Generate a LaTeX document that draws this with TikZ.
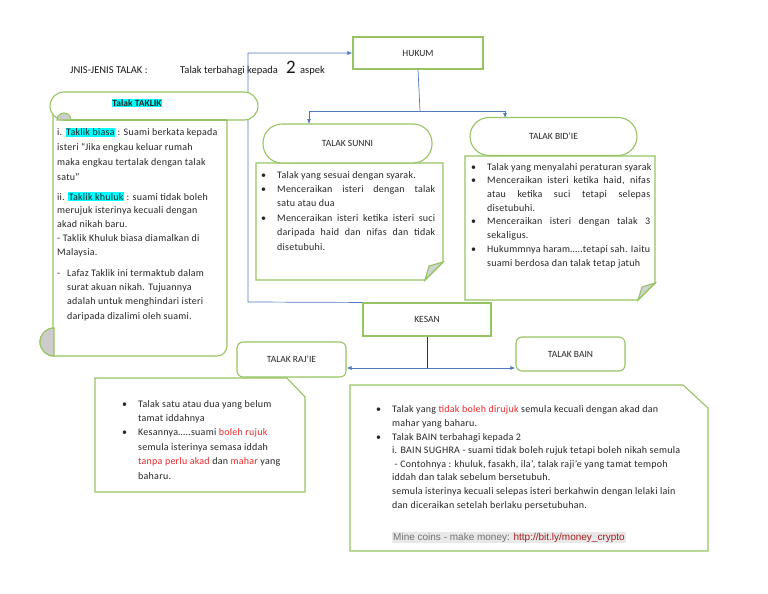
\documentclass[tikz,border=0pt]{standalone}
\usepackage{fontspec}
\setmainfont{Carlito}
\newfontfamily\bodyfont{Carlito}[LetterSpace=2.5]
\newfontfamily\arialfont{Liberation Sans}
\usetikzlibrary{arrows.meta}
\definecolor{boxgreen}{RGB}{150,196,98}
\definecolor{linkblue}{RGB}{80,120,190}
\definecolor{hlcyan}{RGB}{0,255,255}
\definecolor{txtred}{RGB}{235,40,40}
\definecolor{urlred}{RGB}{165,30,30}
\newcommand\hl[1]{{\setlength{\fboxsep}{0.6pt}\colorbox{hlcyan}{#1}}}
\newcommand\bul{\llap{\textbullet\hspace{11pt}}}
\newcommand\jl[2]{\makebox[#1][s]{#2}}
\newcommand\rd[1]{\textcolor{txtred}{#1}}
\tikzset{
  gbox/.style={draw=boxgreen, line width=1.1pt},
  conn/.style={draw=linkblue, line width=0.7pt},
  arr/.style={-{Latex[length=5pt,width=4pt]}},
  arrs/.style={{Latex[length=5pt,width=4pt]}-{Latex[length=5pt,width=4pt]}},
  lbl/.style={font=\fontsize{9.5}{11}\selectfont, text=black!85},
  head/.style={anchor=base west, inner sep=0pt, font=\fontsize{10.5}{12}\selectfont, text=black!90},
  body/.style={anchor=base west, inner sep=0pt, align=left, text=black!85},
  skip/.style={font=\bodyfont\fontsize{10}{#1}\selectfont},
}

\begin{document}
\begin{tikzpicture}[x=1pt, y=-1pt]
			%%%%% START %%%%%
			\useasboundingbox (0,0) rectangle (768,594);
			
			\node[head] (title) at (70,74) {JNIS-JENIS TALAK :};
			\node[head] (terbahagi) at (180,74) {Talak terbahagi kepada};
			\node[head, font=\fontsize{19}{20}\selectfont] (dua) at (286,74) {2};
			\node[head] (aspek) at (300,74) {aspek};
			
			\node[gbox, lbl, minimum width=130pt, minimum height=32pt] (hukum) at (418,53) {HUKUM};
			\node[gbox, lbl, minimum width=128pt, minimum height=33pt] (kesan) at (427,319.5) {KESAN};
			
			% connectors
			\coordinate (bend) at (248,302);
			\draw[conn, arr] (kesan.north west) -- (bend) |- (hukum.west);
			\coordinate (split) at (420,111);
			\coordinate (sunnitop) at (309,124);
			\coordinate (bidietop) at (505,118);
			\draw[conn] (hukum.south) -- (split);
			\draw[conn, arr] (split) -| (sunnitop);
			\draw[conn, arr] (split) -| (bidietop);
			\coordinate (fork) at (427,368);
			\draw[line width=0.6pt, black!80] (kesan.south) -- (fork);
			
			% scroll
			\draw[gbox, fill=white] (64,120) arc (90:270:14) -- (244,92) arc (270:450:14) -- (227,120) -- (227,346) arc (0:90:10) -- (54,356) arc (90:270:14) -- (53,328) -- (53,114.7);
			\draw[gbox] (64,120) -- (227,120);
			\draw[gbox, fill=gray!40] (57,120) arc (180:360:7) -- cycle;
			\draw[gbox, fill=gray!40] (54,356) arc (90:270:14) -- cycle;
			\node[lbl, font=\fontsize{9.5}{11}\selectfont\bfseries] (taklik) at (137,103) {\hl{Talak TAKLIK}};
			\node[body, skip=14.7] (taklika) at (57,180) {i. \hl{Taklik biasa} : Suami berkata kepada\\isteri “Jika engkau keluar rumah\\maka engkau tertalak dengan talak\\satu”};
			\node[body, skip=13.75] (taklikb) at (57,255) {ii. \hl{Taklik khuluk} : suami tidak boleh\\merujuk isterinya kecuali dengan\\akad nikah baru.\\- Taklik Khuluk biasa diamalkan di\\Malaysia.};
			\node[body, skip=14.3] (taklikc) at (67,319) {\llap{\makebox[10pt][l]{-}}Lafaz Taklik ini termaktub dalam\\surat akuan nikah. Tujuannya\\adalah untuk menghindari isteri\\daripada dizalimi oleh suami.};
			
			% hukum branches
			\draw[gbox, fill=white] (256,163) -- (443,163) -- (443,262) -- (425,280) -- (256,280) -- cycle;
			\draw[gbox, fill=gray!35] (425,280) -- (429,266) -- (443,262) -- cycle;
			\node[gbox, lbl, fill=white, rounded corners=19pt, minimum width=169pt, minimum height=39pt] (sunni) at (347.5,143.5) {TALAK SUNNI};
			\node[body, skip=14.4] (sunnitxt) at (277,250) {\bul Talak yang sesuai dengan syarak.\\\bul\jl{158pt}{Menceraikan isteri dengan talak}\\satu atau dua\\\bul\jl{158pt}{Menceraikan isteri ketika isteri suci}\\\jl{158pt}{daripada haid dan nifas dan tidak}\\disetubuhi.};
			
			\draw[gbox, fill=white] (465,156) -- (655,156) -- (655,283) -- (638,300) -- (465,300) -- cycle;
			\draw[gbox, fill=gray!35] (638,300) -- (642,287) -- (655,283) -- cycle;
			\node[gbox, lbl, fill=white, rounded corners=19pt, minimum width=167pt, minimum height=38pt] (bidie) at (553.5,136.5) {TALAK BID’IE};
			\node[body, skip=13.7] (bidietxt) at (487,266) {\bul Talak yang menyalahi peraturan syarak\\\bul\jl{163pt}{Menceraikan isteri ketika haid, nifas}\\\jl{163pt}{atau ketika suci tetapi selepas}\\disetubuhi.\\\bul\jl{163pt}{Menceraikan isteri dengan talak 3}\\sekaligus.\\\bul\jl{163pt}{Hukummnya haram…..tetapi sah. Iaitu}\\suami berdosa dan talak tetap jatuh};
			
			% kesan branches
			\node[gbox, lbl, fill=white, rounded corners=6pt, minimum width=109pt, minimum height=35pt] (rajie) at (291.5,359.5) {TALAK RAJ’IE};
			\node[gbox, lbl, fill=white, rounded corners=6pt, minimum width=109pt, minimum height=34pt] (bain) at (570.5,354) {TALAK BAIN};
			\draw[conn, arrs] (rajie.east |- fork) -- (bain.west |- fork);
			
			\draw[gbox, fill=white] (95,378) -- (287,378) -- (305,397) -- (305,492) -- (95,492) -- cycle;
			\node[body, skip=14.4] (rajietxt) at (138,479) {\bul Talak satu atau dua yang belum\\tamat iddahnya\\\bul Kesannya…..suami \rd{boleh rujuk}\\semula isterinya semasa iddah\\\rd{tanpa perlu akad} dan \rd{mahar} yang\\baharu.};
			
			\draw[gbox, fill=white] (350,385) -- (683,385) -- (708,408) -- (708,551) -- (350,551) -- cycle;
			\node[body, skip=13.6] (baintxt) at (392,508) {\bul Talak yang \rd{tidak boleh dirujuk} semula kecuali dengan akad dan\\mahar yang baharu.\\\bul Talak BAIN terbahagi kepada 2\\i. BAIN SUGHRA - suami tidak boleh rujuk tetapi boleh nikah semula\\~- Contohnya : khuluk, fasakh, ila’, talak raji’e yang tamat tempoh\\iddah dan talak sebelum bersetubuh.\\semula isterinya kecuali selepas isteri berkahwin dengan lelaki lain\\dan diceraikan setelah berlaku persetubuhan.};
			\node[anchor=base west, inner sep=0pt, font=\arialfont\fontsize{10}{11}\selectfont] (crypto) at (392,540) {{\setlength{\fboxsep}{1pt}\colorbox{gray!18}{\textcolor{black!55}{Mine coins - make money:} \textcolor{urlred}{http://bit.ly/money\_crypto}}}};
			
			%%%%% END %%%%%
		\end{tikzpicture}
\end{document}
